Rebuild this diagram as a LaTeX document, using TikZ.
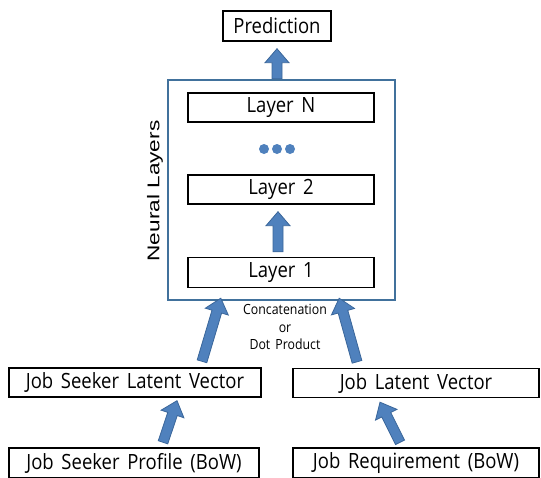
\documentclass[tikz,border=0pt]{standalone}
\usepackage{fontspec}
\setmainfont[FakeStretch=0.88, WordSpace=1.6]{Open Sans}
\newfontfamily\widesans[FakeStretch=1.33]{Liberation Sans}
\usetikzlibrary{calc}

\definecolor{arrowfill}{HTML}{4F81BD}
\definecolor{arrowline}{HTML}{3A669A}
\definecolor{frameblue}{HTML}{41719C}

\tikzset{
  box/.style={draw=black, line width=1.4pt, inner sep=0pt, minimum height=29pt,
    font=\fontsize{21}{21}\selectfont},
  layerbox/.style={box, minimum width=186pt},
  frame/.style={draw=frameblue, line width=2.4pt, inner sep=0pt},
  blockarrow/.style={fill=arrowfill, draw=arrowline, line width=0.8pt, line join=miter},
  dotnode/.style={circle, fill=arrowfill, inner sep=0pt, minimum size=10pt},
  smalltext/.style={font=\fontsize{14}{17.5}\selectfont, align=center, inner sep=0pt}
}

% block arrow with a 10pt shaft and a 24pt wide, 14pt long head, from #1 to #2
\newcommand\blockarrow[2]{%
  \coordinate (ba-h) at ($(#2)!14pt!(#1)$);
  \filldraw[blockarrow]
    ($(#1)!5pt!-90:(#2)$) -- ($(ba-h)!5pt!90:(#1)$) -- ($(ba-h)!12pt!90:(#1)$) --
    (#2) -- ($(ba-h)!12pt!-90:(#1)$) -- ($(ba-h)!5pt!-90:(#1)$) --
    ($(#1)!5pt!90:(#2)$) -- cycle;
}

\begin{document}
\begin{tikzpicture}[x=1pt, y=-1pt]
\useasboundingbox (0,0) rectangle (541,477);

% output
\node[box, minimum width=108pt, minimum height=30pt] (pred) at (277,26) {Prediction};

% neural layers frame
\node[frame, minimum width=227pt, minimum height=220pt] (nn) at (281.5,190) {};
\node[font=\widesans\fontsize{17}{17}\selectfont, rotate=90, inner sep=0pt] (nnlabel) at (155,191) {Neural Layers};

\node[layerbox] (layN) at (281,107.5) {Layer N};
\node[layerbox] (lay2) at (281,189.5) {Layer 2};
\node[layerbox, minimum height=30pt] (lay1) at (281,272.5) {Layer 1};

\node[dotnode] (d1) at (264,149) {};
\node[dotnode] (d2) at (277,149) {};
\node[dotnode] (d3) at (290,149) {};

\node[smalltext] (comb) at (285,327) {Concatenation\\or\\Dot Product};

% latent vectors
\node[box, minimum width=252pt] (jslv) at (135,382.5) {Job Seeker Latent Vector};
\node[box, minimum width=246pt] (jlv) at (416,383) {Job Latent Vector};

% inputs
\node[box, minimum width=250pt, minimum height=30pt] (jsp) at (134,463) {Job Seeker Profile (BoW)};
\node[box, minimum width=246pt, minimum height=30pt] (jr) at (416,463) {Job Requirement (BoW)};

% connectors
\blockarrow{$(nn.north)+(-4.5,0)$}{$(pred.south)+(0,7)$}
\blockarrow{$(lay1.north)+(-3,-5)$}{$(lay2.south)+(-3,7)$}
\blockarrow{$(jslv.north)+(67,-6)$}{$(nn.south west)+(54,-3)$}
\blockarrow{$(jlv.north)+(-59,-6)$}{$(nn.south east)+(-57,-3)$}
\blockarrow{$(jsp.north)+(29,-5)$}{$(jslv.south)+(42,3)$}
\blockarrow{$(jr.north)+(-16,-5)$}{$(jlv.south)+(-36,4)$}
\end{tikzpicture}
\end{document}
